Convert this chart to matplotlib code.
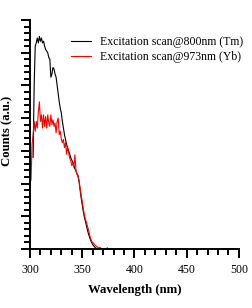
import matplotlib
matplotlib.use("Agg")
import matplotlib.pyplot as plt
from matplotlib.ticker import MultipleLocator

wl_tm = list(range(303, 373))
counts_tm = [2.8, 5.0, 6.2, 6.3, 6.45, 6.3, 6.5, 6.35, 6.45, 6.3,
             6.35, 6.2, 6.1, 6.05, 6.0, 5.85, 5.8, 5.25, 5.35, 5.55,
             5.5, 5.35, 5.25, 5.0, 4.75, 4.5, 4.3, 4.15, 3.9, 3.7,
             3.5, 3.35, 3.2, 3.1, 3.0, 2.9, 2.8, 2.72, 2.65, 2.55,
             2.45, 2.38, 2.3, 2.25, 2.05, 1.8, 1.56, 1.35, 1.15, 0.98,
             0.85, 0.72, 0.58, 0.46, 0.36, 0.27, 0.2, 0.14, 0.09, 0.06,
             0.03, 0.01, 0.0, 0.0, 0.0, 0.0, 0.0, 0.0, 0.0, 0.0]

wl_yb = list(range(301, 376))
counts_yb = [2.1, 3.2, 3.5, 3.9, 3.6, 3.9, 3.7, 4.2, 4.5, 3.9,
             4.1, 3.7, 4.1, 3.75, 4.05, 3.7, 4.1, 3.85, 3.75, 4.1,
             3.8, 3.95, 3.75, 3.85, 3.55, 3.9, 4.0, 3.5, 3.6, 3.35,
             3.25, 3.35, 3.1, 3.25, 2.9, 3.1, 2.95, 2.78, 2.7, 2.55,
             2.65, 2.5, 2.88, 2.4, 2.3, 2.2, 2.1, 1.85, 1.65, 1.45,
             1.25, 1.05, 0.92, 0.82, 0.7, 0.58, 0.45, 0.32, 0.24, 0.2,
             0.17, 0.12, 0.1, 0.07, 0.05, 0.03, 0.05, 0.02, 0.0, 0.0,
             0.0, 0.0, 0.0, 0.04, 0.0]

labels = ["Excitation scan@800nm (Tm)", "Excitation scan@973nm (Yb)"]

plt.rcParams['font.family'] = ['Liberation Serif', 'DejaVu Serif']

fig = plt.figure(figsize=(2.52, 3.08), dpi=100)
ax = fig.add_axes([0.119, 0.1916, 0.829, 0.7434])
ax.plot(wl_tm, counts_tm, color='black', lw=0.8, label=labels[0])
ax.plot(wl_yb, counts_yb, color='red', lw=0.8, label=labels[1])

ax.set_xlim(300, 500)
ax.set_ylim(0, 7)
ax.xaxis.set_major_locator(MultipleLocator(50))
ax.xaxis.set_minor_locator(MultipleLocator(10))
ax.yaxis.set_major_locator(MultipleLocator(1))
ax.yaxis.set_minor_locator(MultipleLocator(0.2))
ax.set_yticklabels([])
for s in ['top', 'right']:
    ax.spines[s].set_visible(False)
for s in ['left', 'bottom']:
    ax.spines[s].set_linewidth(1.4)
ax.tick_params(which='major', direction='out', length=6.5, width=1.4, labelsize=8.5, pad=4)
ax.tick_params(which='minor', direction='out', length=4, width=1.4)

ax.set_xlabel("Wavelength (nm)", fontsize=9.2, fontweight='bold', labelpad=6)
ax.set_ylabel("Counts (a.u.)", fontsize=9.2, fontweight='bold')
ax.yaxis.set_label_coords(-0.082, 0.515)

ax.legend(loc='upper left', bbox_to_anchor=(0.196, 0.93), frameon=False, fontsize=8.5,
          borderpad=0, borderaxespad=0,
          handlelength=1.7, handletextpad=0.72, labelspacing=0.27)

fig.savefig("out.png", dpi=100)
